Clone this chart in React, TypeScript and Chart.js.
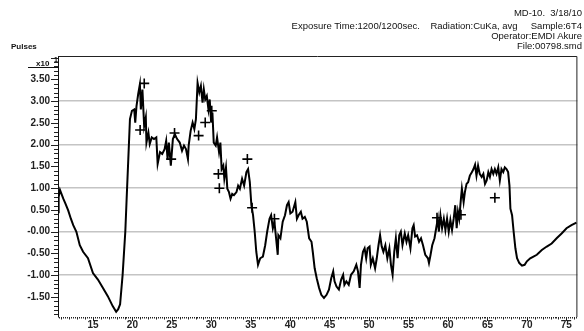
import React, { useEffect, useRef } from "react";
import { Chart, registerables } from "chart.js";

Chart.register(...registerables);

// 2-theta positions (degrees) of the traced pattern
const twoTheta: number[] = [
  10.57, 10.65, 10.82, 11.24, 11.5, 11.86, 12.2, 12.5, 12.9, 13.33, 13.75, 14.37, 15.0, 15.63, 16.25, 16.88, 17.5, 17.94, 18.2, 18.44,
  18.76, 19.1, 19.27, 19.48, 19.69, 19.94, 20.23, 20.36, 20.52, 20.73, 20.95, 21.07, 21.27, 21.49, 21.7, 21.78, 22.03, 22.2, 22.45, 22.74,
  23.03, 23.2, 23.5, 23.78, 24.08, 24.28, 24.46, 24.62, 24.87, 25.13, 25.38, 25.67, 26.0, 26.29, 26.54, 26.79, 27.04, 27.13, 27.38, 27.63,
  27.85, 28.05, 28.26, 28.48, 28.68, 28.89, 29.05, 29.23, 29.43, 29.64, 29.8, 29.98, 30.14, 30.31, 30.56, 30.73, 30.98, 31.15, 31.31, 31.52,
  31.65, 31.86, 32.03, 32.24, 32.44, 32.65, 32.87, 33.19, 33.4, 33.62, 33.9, 34.16, 34.45, 34.66, 34.88, 35.08, 35.29, 35.5, 35.7, 35.92,
  36.2, 36.54, 36.83, 37.08, 37.38, 37.58, 37.8, 38.0, 38.21, 38.42, 38.5, 38.76, 39.05, 39.34, 39.59, 39.8, 40.02, 40.3, 40.65, 40.85,
  41.06, 41.35, 41.56, 41.85, 42.1, 42.4, 42.7, 42.86, 43.1, 43.36, 43.66, 43.94, 44.28, 44.61, 44.91, 45.2, 45.45, 45.62, 45.87, 46.17,
  46.46, 46.71, 46.87, 47.12, 47.42, 47.71, 48.05, 48.38, 48.59, 48.8, 48.97, 49.22, 49.43, 49.63, 49.81, 50.06, 50.22, 50.47, 50.76, 50.97,
  51.19, 51.39, 51.6, 51.81, 52.06, 52.31, 52.57, 52.77, 52.98, 53.19, 53.39, 53.61, 53.82, 54.02, 54.23, 54.52, 54.74, 54.95, 55.24, 55.49,
  55.65, 55.83, 56.08, 56.33, 56.58, 56.83, 57.12, 57.46, 57.59, 57.79, 58.0, 58.29, 58.5, 58.71, 58.84, 59.04, 59.25, 59.47, 59.67, 59.88,
  60.09, 60.3, 60.51, 60.72, 60.92, 61.1, 61.26, 61.42, 61.64, 61.76, 61.98, 62.14, 62.35, 62.55, 62.77, 63.02, 63.23, 63.43, 63.61, 63.81,
  64.02, 64.27, 64.48, 64.69, 64.9, 65.11, 65.31, 65.52, 65.74, 65.94, 66.15, 66.37, 66.57, 66.78, 67.0, 67.2, 67.41, 67.62, 67.79, 67.91,
  68.12, 68.32, 68.54, 68.75, 69.04, 69.38, 69.71, 70.0, 70.42, 70.83, 71.26, 71.89, 72.52, 73.14, 73.77, 74.4, 75.02, 75.65, 76.28,
];

// Pulses (x10^1)
const pulses: number[] = [
  0.45, 0.8, 0.96, 0.76, 0.65, 0.49, 0.3, 0.15, 0.0, -0.31, -0.46, -0.61, -0.95, -1.1, -1.29, -1.48, -1.71, -1.84, -1.78, -1.67,
  -0.99, 0.0, 0.76, 1.67, 2.59, 2.78, 2.81, 2.51, 2.89, 3.16, 3.39, 2.81, 3.27, 2.43, 2.63, 2.05, 2.28, 2.02, 2.17, 2.13,
  2.17, 1.56, 1.83, 1.79, 1.9, 2.09, 1.67, 2.05, 1.52, 2.13, 2.24, 2.13, 2.05, 1.86, 1.98, 1.9, 1.67, 1.98, 2.32, 2.51,
  2.36, 2.59, 3.42, 3.2, 3.35, 2.97, 3.27, 3.04, 3.12, 2.81, 3.04, 2.51, 2.74, 2.05, 1.98, 2.17, 1.83, 2.05, 1.44, 1.52,
  1.22, 1.48, 0.99, 0.91, 0.76, 0.87, 0.84, 0.91, 1.06, 0.99, 1.22, 1.06, 1.37, 1.44, 1.14, 0.61, 0.38, 0.0, -0.46, -0.76,
  -0.61, -0.57, -0.31, 0.0, 0.3, 0.38, 0.08, 0.23, -0.15, -0.53, -0.08, -0.15, 0.23, 0.38, 0.61, 0.68, 0.42, 0.46, 0.68, 0.3,
  0.38, 0.46, 0.3, 0.34, 0.23, -0.15, -0.23, -0.46, -0.84, -1.07, -1.29, -1.45, -1.52, -1.45, -1.33, -1.07, -0.91, -1.14, -1.26, -1.33,
  -1.1, -0.99, -1.22, -1.14, -1.22, -0.99, -0.91, -0.76, -0.91, -1.29, -0.76, -0.46, -0.38, -0.61, -0.38, -0.34, -0.76, -0.61, -0.84, -0.61,
  -0.31, -0.08, -0.34, -0.46, -0.31, -0.61, -0.38, -0.76, -0.99, -0.46, -0.15, -0.61, -0.08, 0.0, -0.31, -0.04, -0.23, -0.08, -0.38, 0.08,
  0.15, -0.11, -0.08, -0.23, -0.15, -0.31, -0.53, -0.61, -0.72, -0.53, -0.31, -0.15, 0.08, 0.3, 0.0, 0.38, 0.08, 0.3, 0.04, 0.3,
  0.0, 0.27, 0.04, 0.3, 0.61, 0.08, 0.46, 0.3, 0.76, 0.99, 0.68, 0.91, 1.1, 1.14, 1.29, 1.37, 1.44, 1.54, 1.29, 1.52,
  1.33, 1.26, 1.33, 1.1, 1.18, 1.37, 1.26, 1.44, 1.33, 1.44, 1.33, 1.48, 1.18, 1.44, 1.37, 1.48, 1.44, 1.37, 1.06, 0.53,
  0.38, 0.0, -0.38, -0.61, -0.72, -0.78, -0.76, -0.68, -0.61, -0.57, -0.53, -0.42, -0.34, -0.27, -0.15, -0.04, 0.08, 0.15, 0.21,
];

// "+" peak markers
const markX: number[] = [21.5, 20.98, 25.34, 24.91, 28.39, 30.06, 29.23, 30.9, 31.02, 34.57, 35.17, 38.0, 58.6, 61.64, 65.94];
const markY: number[] = [3.41, 2.34, 2.27, 1.67, 2.21, 2.78, 2.51, 1.33, 1.0, 1.67, 0.55, 0.3, 0.32, 0.39, 0.78];

const xTickValues: number[] = [15, 20, 25, 30, 35, 40, 45, 50, 55, 60, 65, 70, 75];
const xTickLabels: string[] = ["15", "20", "25", "30", "35", "40", "45", "50", "55", "60", "65", "70", "75"];
const yTickValues: number[] = [3.5, 3.0, 2.5, 2.0, 1.5, 1.0, 0.5, 0.0, -0.5, -1.0, -1.5];
const yTickLabels: string[] = ["3.50", "3.00", "2.50", "2.00", "1.50", "1.00", "0.50", "-0.00", "-0.50", "-1.00", "-1.50"];

const X_MIN = 10.57;
const X_MAX = 76.4;
const Y_MIN = -1.96;
const Y_MAX = 4.04;

const FONT = "'Liberation Sans', Arial, sans-serif";

const framePlugin = {
  id: "frameTicks",
  afterDraw(chart: any) {
    const { ctx, chartArea, scales } = chart;
    const { left, right, top, bottom } = chartArea;
    ctx.save();
    ctx.strokeStyle = "#222";
    ctx.lineWidth = 1;
    // top and right frame
    ctx.beginPath();
    ctx.moveTo(left, top + 0.5);
    ctx.lineTo(right - 0.5, top + 0.5);
    ctx.lineTo(right - 0.5, bottom);
    ctx.stroke();
    // y minor ticks
    const ys = scales.y;
    ctx.beginPath();
    for (let k = -19; k <= 40; k++) {
      const v = k / 10;
      const py = Math.round(ys.getPixelForValue(v)) + 0.5;
      const len = k % 5 === 0 ? 7 : 4;
      ctx.moveTo(left - len, py);
      ctx.lineTo(left, py);
    }
    ctx.stroke();
    // x minor ticks
    const xs = scales.x;
    ctx.beginPath();
    for (let k = Math.ceil(X_MIN * 4); k <= Math.floor(X_MAX * 4); k++) {
      const v = k / 4;
      const px = Math.round(xs.getPixelForValue(v)) + 0.5;
      let len = 1.5;
      if (k % 20 === 0) len = 4;
      else if (k % 4 === 0) len = 2.5;
      ctx.moveTo(px, bottom);
      ctx.lineTo(px, bottom + len);
    }
    ctx.stroke();
    ctx.restore();
  },
};

export default function App() {
  const ref = useRef<HTMLCanvasElement | null>(null);

  useEffect(() => {
    if (!ref.current) return;
    const chart = new Chart(ref.current, {
      type: "scatter",
      data: {
        datasets: [
          {
            data: twoTheta.map((x, i) => ({ x, y: pulses[i] })),
            showLine: true,
            borderColor: "#000",
            borderWidth: 2,
            pointRadius: 0,
            tension: 0,
          },
          {
            data: markX.map((x, i) => ({ x, y: markY[i] })),
            showLine: false,
            pointStyle: "cross",
            pointRadius: 5,
            borderColor: "#000",
            borderWidth: 1.6,
          },
        ],
      },
      options: {
        responsive: false,
        animation: false,
        layout: { padding: { top: 56, right: 1, left: 0, bottom: 0 } },
        plugins: { legend: { display: false }, tooltip: { enabled: false } },
        scales: {
          x: {
            type: "linear",
            min: X_MIN,
            max: X_MAX,
            afterBuildTicks: (s: any) => {
              s.ticks = xTickValues.map((v) => ({ value: v }));
            },
            afterFit: (s: any) => {
              s.height = 12;
            },
            grid: { display: false, drawTicks: false },
            border: { display: false },
            ticks: {
              autoSkip: false,
              maxRotation: 0,
              padding: 2,
              color: "#222",
              font: { family: FONT, size: 10, weight: "bold" },
              callback: (_v: any, i: number) => xTickLabels[i],
            },
          },
          y: {
            min: Y_MIN,
            max: Y_MAX,
            afterBuildTicks: (s: any) => {
              s.ticks = yTickValues.map((v) => ({ value: v }));
            },
            afterFit: (s: any) => {
              s.width = 58;
            },
            grid: {
              drawTicks: false,
              lineWidth: 1.5,
              color: (c: any) =>
                c.tick && Number.isInteger(c.tick.value) ? "#c4c4c4" : "rgba(0,0,0,0)",
            },
            border: { display: true, color: "#111", width: 1 },
            ticks: {
              padding: 8,
              color: "#222",
              font: { family: FONT, size: 10, weight: "bold" },
              callback: (_v: any, i: number) => yTickLabels[i],
            },
          },
        },
      },
      plugins: [framePlugin],
    });
    return () => chart.destroy();
  }, []);

  const txt: React.CSSProperties = {
    position: "absolute",
    fontFamily: FONT,
    fontSize: "9.5px",
    color: "#111",
    whiteSpace: "pre",
    lineHeight: "10px",
  };

  return (
    <div style={{ position: "fixed", left: 0, top: 0, width: 584, height: 331, background: "#fff", overflow: "hidden" }}>
      <canvas ref={ref} width={584} height={331} style={{ position: "absolute", left: 0, top: 0, width: 584, height: 331 }} />
      <div style={{ ...txt, right: 2, top: 8 }}>MD-10.  3/18/10</div>
      <div style={{ ...txt, right: 2, top: 21 }}>Exposure Time:1200/1200sec.    Radiation:CuKa, avg     Sample:6T4</div>
      <div style={{ ...txt, right: 2, top: 31 }}>Operator:EMDI Akure</div>
      <div style={{ ...txt, right: 2, top: 41 }}>File:00798.smd</div>
      <div style={{ ...txt, left: 11, top: 42, fontSize: "8px", fontWeight: "bold" }}>Pulses</div>
      <div style={{ ...txt, left: 36, top: 59, fontSize: "8px", fontWeight: "bold" }}>x10</div>
      <div style={{ ...txt, left: 54, top: 55, fontSize: "7px", fontWeight: "bold" }}>1</div>
      <div style={{ position: "absolute", left: 28, top: 67, width: 30, height: 1, background: "#111" }} />
    </div>
  );
}
